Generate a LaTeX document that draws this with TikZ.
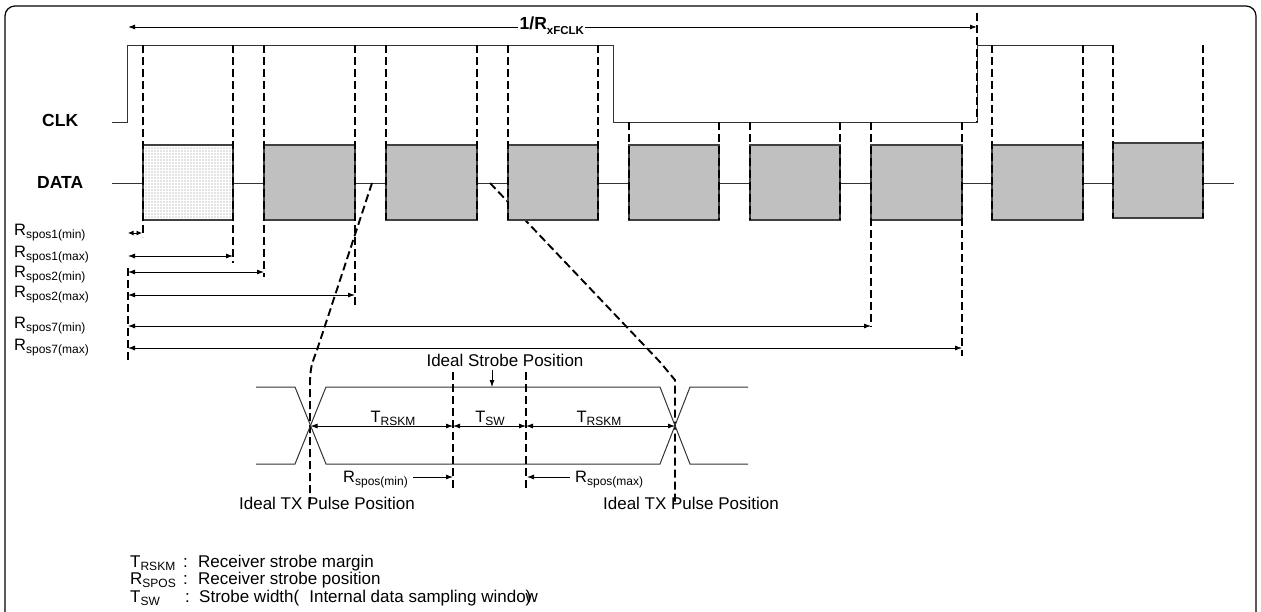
\documentclass[tikz,border=0pt]{standalone}
\usepackage{fontspec}
\setmainfont{Liberation Sans}
\usetikzlibrary{arrows.meta,patterns}
\definecolor{boxgray}{RGB}{192,192,192}
\definecolor{hatchgray}{RGB}{228,228,228}
\newcommand\Sb[1]{\raisebox{-3pt}{\fontsize{12}{12}\selectfont #1}}
\newcommand\Sbb[1]{\raisebox{-5pt}{\fontsize{11.5}{12}\selectfont\bfseries #1}}
\begin{document}
\begin{tikzpicture}[x=1pt,y=-1pt,
  sig/.style={line width=1pt,draw=black!80},
  dbox/.style={fill=boxgray,draw=black!75,line width=1.1pt},
  dsh/.style={line width=1.9pt,dash pattern=on 8pt off 4pt},
  dim/.style={line width=0.8pt,{Latex[length=7pt,width=5pt]}-{Latex[length=7pt,width=5pt]}},
  dimsmall/.style={line width=0.8pt,{Latex[length=5.5pt,width=5pt]}-{Latex[length=5.5pt,width=5pt]}},
  oneway/.style={line width=0.8pt,-{Latex[length=7pt,width=5pt]}},
  txt/.style={inner sep=0pt,font=\fontsize{16.5}{18}\selectfont},
  ltxt/.style={inner sep=0pt,font=\fontsize{17}{18}\selectfont},
  btxt/.style={inner sep=0pt,font=\fontsize{17.5}{20}\selectfont\bfseries}]
\useasboundingbox (0,0) rectangle (1261,611);
\clip (0,0) rectangle (1261,611);
% frame
\draw[line width=1.2pt,rounded corners=10pt] (5,6) rectangle (1256,650);

% period arrow
\coordinate (pL) at (128,27);
\coordinate (pR) at (977,27);
\draw[dim,line width=1pt] (pL) -- (pR);
\node[btxt,anchor=base west,fill=white,inner sep=1.5pt] (per) at (518,29) {1/R\Sbb{xFCLK}};

% signal labels
\node[btxt,anchor=base west] (clk) at (42,126) {CLK};
\node[btxt,anchor=base west] (data) at (37,188) {DATA};

% CLK waveform
\draw[sig] (112,122) -- (127,122) -- (127,45) -- (613,45) -- (613,122) -- (977,122) -- (977,45) -- (1114,45);
% DATA baseline
\draw[sig] (112,183) -- (1234,183);

% zoom guide dashed lines (under boxes)
\draw[dsh] (372,183) -- (317,350) .. controls (311,366) .. (310,380) -- (310,503);
\draw[dsh] (490,183) -- (660,362) -- (675,380) -- (675,503);

% data boxes
\fill[hatchgray] (143,145) rectangle (233,220);
\fill[pattern=grid,pattern color=white] (143,145) rectangle (233,220);
\draw[draw=black!75,line width=1.1pt] (143,145) rectangle (233,220);
\foreach \l/\r in {264/355,386/477,508/598,629/719,750/840,871/962,992/1083}
  \draw[dbox] (\l,145) rectangle (\r,220);
\draw[dbox] (1113,143) rectangle (1203,218);

% vertical dashed strobe lines
\foreach \x/\b in {143/237,233/263,264/277,355/305,386/220,477/220,508/220,598/220,992/220,1083/220,1113/218,1203/218}
  \draw[dsh] (\x,45) -- (\x,\b);
\foreach \x/\b in {629/220,719/220,750/220,840/220,871/327,962/356}
  \draw[dsh] (\x,122) -- (\x,\b);
\draw[dsh] (977,13) -- (977,122);
\draw[dsh] (128,268) -- (128,363);

% Rspos labels
\node[txt,anchor=base west] (l1) at (14,235) {R\Sb{spos1(min)}};
\node[txt,anchor=base west] (l2) at (14,257) {R\Sb{spos1(max)}};
\node[txt,anchor=base west] (l3) at (14,277) {R\Sb{spos2(min)}};
\node[txt,anchor=base west] (l4) at (14,297) {R\Sb{spos2(max)}};
\node[txt,anchor=base west] (l5) at (14,328) {R\Sb{spos7(min)}};
\node[txt,anchor=base west] (l6) at (14,350) {R\Sb{spos7(max)}};

% Rspos arrows
\coordinate (a1) at (128,233); \coordinate (b1) at (142,233);
\coordinate (a2) at (128,256); \coordinate (b2) at (233,256);
\coordinate (a3) at (128,272); \coordinate (b3) at (264,272);
\coordinate (a4) at (128,295); \coordinate (b4) at (355,295);
\coordinate (a5) at (128,326); \coordinate (b5) at (871,326);
\coordinate (a6) at (128,348); \coordinate (b6) at (962,348);
\draw[dimsmall] (a1) -- (b1);
\draw[dim] (a2) -- (b2);
\draw[dim] (a3) -- (b3);
\draw[dim] (a4) -- (b4);
\draw[dim] (a5) -- (b5);
\draw[dim] (a6) -- (b6);

% eye diagram
\draw[sig] (256,387) -- (295,387) -- (326,464) -- (660,464) -- (690,387) -- (748,387);
\draw[sig] (256,464) -- (295,464) -- (326,387) -- (660,387) -- (690,464) -- (748,464);
\draw[dsh] (453,372) -- (453,488);
\draw[dsh] (526,372) -- (526,488);

\node[ltxt,anchor=base] (isp) at (505,366) {Ideal Strobe Position};
\coordinate (ispt) at (492,370); \coordinate (ispb) at (492,387);
\draw[oneway] (ispt) -- (ispb);

\coordinate (xL) at (310.5,426); \coordinate (s1) at (453,426);
\coordinate (s2) at (526,426); \coordinate (xR) at (675,426);
\draw[dim] (xL) -- (s1);
\draw[dim] (s1) -- (s2);
\draw[dim] (s2) -- (xR);
\node[txt,anchor=base] (tr1) at (393,422) {T\Sb{RSKM}};
\node[txt,anchor=base] (tsw) at (490,422) {T\Sb{SW}};
\node[txt,anchor=base] (tr2) at (599,422) {T\Sb{RSKM}};

\node[txt,anchor=base west] (rmin) at (343,482) {R\Sb{spos(min)}};
\coordinate (rminb) at (453,477);
\draw[oneway] (rmin.east |- rminb) ++(5,0) -- (rminb);
\node[txt,anchor=base west] (rmax) at (575,482) {R\Sb{spos(max)}};
\coordinate (rmaxb) at (527,477);
\draw[oneway] (570,477) -- (rmaxb);

\node[ltxt,anchor=base] (itx1) at (327,509) {Ideal TX Pulse Position};
\node[ltxt,anchor=base] (itx2) at (691,509) {Ideal TX Pulse Position};

% legend
\node[ltxt,anchor=base west] (g1) at (130,567) {T\Sb{RSKM}};
\node[ltxt,anchor=base west] (g1c) at (183,567) {:};
\node[ltxt,anchor=base west] (g1t) at (198,567) {Receiver strobe margin};
\node[ltxt,anchor=base west] (g2) at (130,584) {R\Sb{SPOS}};
\node[ltxt,anchor=base west] (g2c) at (183,584) {:};
\node[ltxt,anchor=base west] (g2t) at (198,584) {Receiver strobe position};
\node[ltxt,anchor=base west] (g3) at (130,602) {T\Sb{SW}};
\node[ltxt,anchor=base west] (g3c) at (185,602) {:};
\node[ltxt,anchor=base west] (g3t) at (199,602) {Strobe width(\hspace{10pt}Internal data sampling windo\rlap{)}w};
\end{tikzpicture}
\end{document}
